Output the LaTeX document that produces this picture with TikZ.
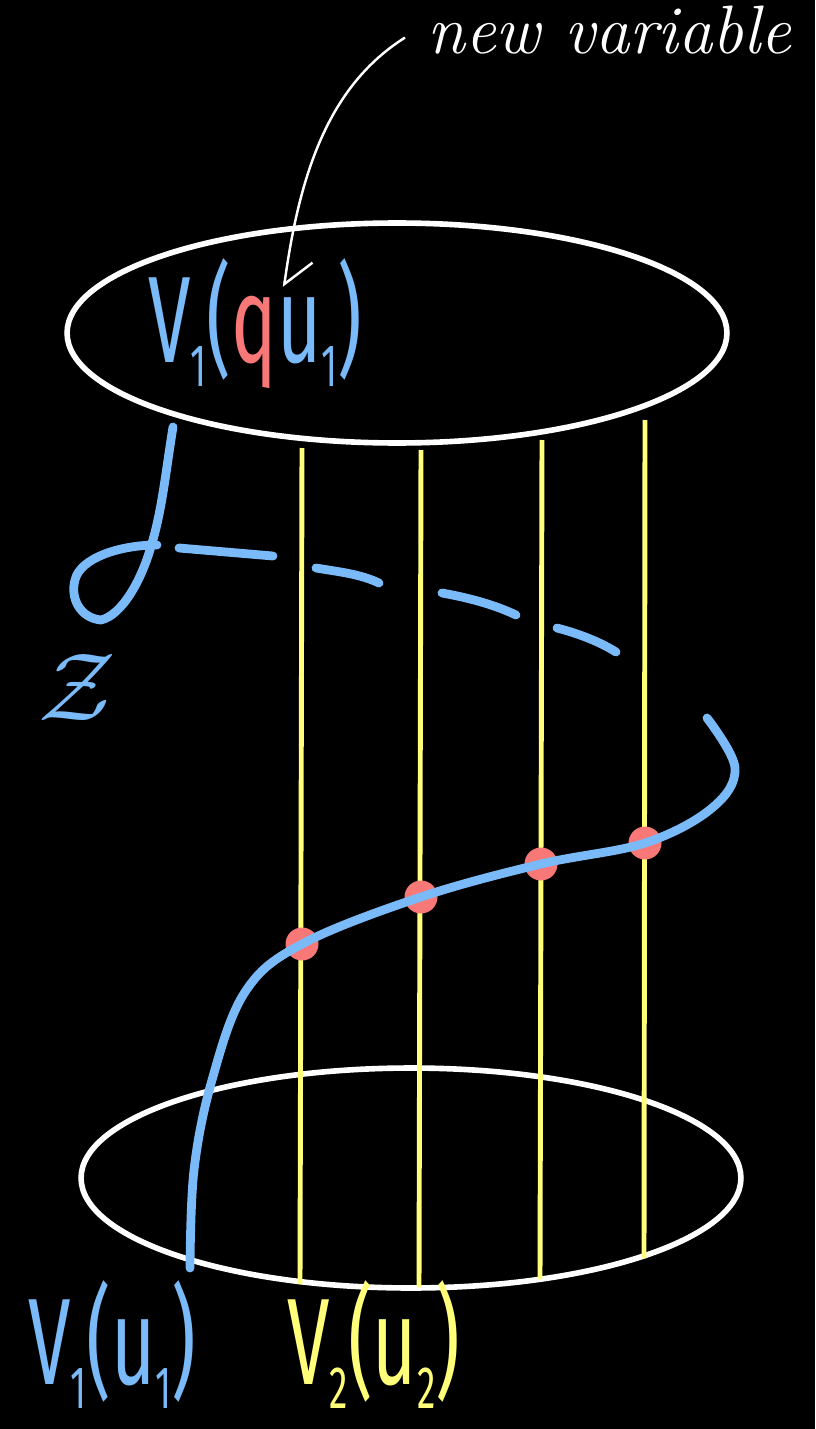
\documentclass[tikz,border=0pt]{standalone}
\usepackage{amsmath}
\usepackage{graphicx}
\usepackage{fontspec}
\newfontfamily\handfont{Fira Sans}
\usetikzlibrary{positioning, shapes, arrows.meta, calc}

\definecolor{penblue}{HTML}{7ABAF8}
\definecolor{penyellow}{HTML}{FFFF7A}
\definecolor{penred}{HTML}{F87878}
\newcommand{\lo}[1]{\raisebox{-0.2em}{\fontsize{34}{34}\selectfont #1}}

\begin{document}
\begin{tikzpicture}[x=0.02cm, y=-0.02cm, every node/.style={inner sep=0pt}]
  \tikzstyle{rim}=[draw=white, line width=3.2pt, ellipse, minimum width=13.2cm, minimum height=4.4cm]
  \tikzstyle{fibre}=[penyellow, line width=2.8pt]
  \tikzstyle{pen}=[penblue, line width=5pt, line cap=round, line join=round]
  \tikzstyle{hit}=[circle, fill=penred, minimum size=0.66cm]
  \tikzstyle{big}=[font=\handfont\fontsize{70}{70}\selectfont, anchor=base west]

  \fill[black] (0,0) rectangle (815,1429);
  \node[rim] (upper) at (397,333) {};
  \node[rim] (lower) at (411,1178) {};

  % fibres
  \foreach \xa/\ya/\xb/\yb in {302/448/300/1284, 421/450/419/1287, 542/440/540/1279, 645/420/644/1258}
    \draw[fibre] (\xa,\ya) -- (\xb,\yb);

  % section through the fibres
  \node[hit] (h1) at (302,944) {};
  \node[hit] (h2) at (421,897) {};
  \node[hit] (h3) at (541,864) {};
  \node[hit] (h4) at (645,843) {};
  \draw[pen] plot[smooth, tension=0.6] coordinates {(707,718) (735,768) (712,808) (h4.center) (h3.center) (h2.center) (h1.center) (245,992) (212,1080) (194,1170) (190,1268)};

  % the old curve, hooked and dashed
  \draw[pen] (173,427) .. controls (166,470) and (162,510) .. (152,543) .. controls (142,580) and (122,615) .. (101,620) .. controls (80,618) and (70,598) .. (75,580) .. controls (80,558) and (120,545) .. (157,545);
  \draw[pen] (179,548) -- (273,556);
  \draw[pen] (316,568) .. controls (340,572) and (360,574) .. (379,583);
  \draw[pen] (442,593) .. controls (470,598) and (495,605) .. (516,615);
  \draw[pen] (557,628) .. controls (580,634) and (600,642) .. (616,652);
  \node[penblue] (zed) at (77,687) {\scalebox{5.5}{$\mathcal{Z}$}};

  % labels
  \node[big, penblue] (vq) at (148,362) {\scalebox{0.62}[1]{V\lo{1}(\textcolor{penred}{q}u\lo{1})}};
  \node[big, penblue] (v1) at (28,1384) {\scalebox{0.62}[1]{V\lo{1}(u\lo{1})}};
  \node[big, penyellow] (v2) at (287,1384) {\scalebox{0.62}[1]{V\lo{2}(u\lo{2})}};
  \node[white, font=\itshape\fontsize{39}{39}\selectfont, anchor=base west] (nv) at (427,54) {new variable};
  \coordinate (tip) at (284,287);
  \draw[white, line width=1.4pt, -{Straight Barb[left, length=0.5cm, width=1cm]}] ($(nv.west)+(-22,7)$) .. controls (330,85) and (300,170) .. (tip);
\end{tikzpicture}
\end{document}
